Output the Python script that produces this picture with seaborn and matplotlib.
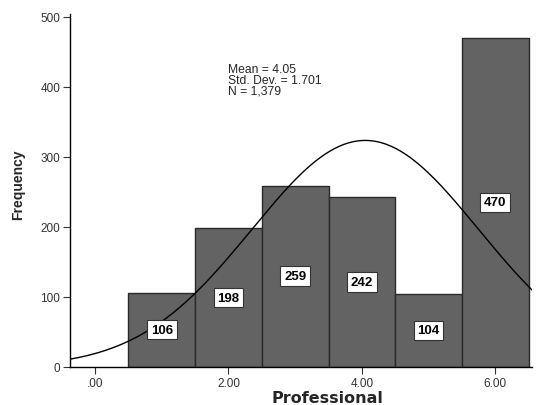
import numpy as np
import pandas as pd
import matplotlib
matplotlib.use("Agg")
import matplotlib.pyplot as plt
import seaborn as sns

# histogram values
scores = [1, 2, 3, 4, 5, 6]
counts = [106, 198, 259, 242, 104, 470]
mean = 4.05
std_dev = 1.701
n_total = 1379
x_ticks = [0, 2, 4, 6]
x_tick_labels = [".00", "2.00", "4.00", "6.00"]
y_ticks = [0, 100, 200, 300, 400, 500]

sns.set_style("white")
plt.rcParams["font.family"] = ["Liberation Sans", "DejaVu Sans"]

fig = plt.figure(figsize=(5.39, 4.06), dpi=100)
ax = fig.add_axes([0.130, 0.094, 0.857, 0.869])

df = pd.DataFrame({"Professional": scores, "count": counts})
sns.histplot(data=df, x="Professional", weights="count",
             binwidth=1, binrange=(0.5, 6.5), color="#636363", alpha=1,
             edgecolor="#2a2a2a", linewidth=1.0, ax=ax)

# normal curve scaled to counts (bin width 1)
xs = np.linspace(-0.375, 6.55, 300)
ys = n_total / (std_dev * np.sqrt(2 * np.pi)) * np.exp(-0.5 * ((xs - mean) / std_dev) ** 2)
sns.lineplot(x=xs, y=ys, color="black", linewidth=1.0, ax=ax)

# count labels in the middle of each bar
for s, c in zip(scores, counts):
    ax.text(s, c / 2, str(c), ha="center", va="center", fontsize=9.5,
            fontweight="bold", color="black",
            bbox=dict(boxstyle="square,pad=0.28", facecolor="white",
                      edgecolor="#333333", linewidth=0.8))

ax.text(1.99, 434, f"Mean = {mean:.2f}\nStd. Dev. = {std_dev}\nN = {n_total:,}",
        fontsize=8.7, va="top", ha="left", linespacing=0.85)

ax.set_xlim(-0.375, 6.55)
ax.set_ylim(0, 504)
ax.set_xticks(x_ticks)
ax.set_xticklabels(x_tick_labels)
ax.set_yticks(y_ticks)
ax.tick_params(axis="both", direction="out", length=5, width=0.8,
               labelsize=8.5, colors="#333333", pad=2, bottom=True, left=True)

ax.set_xlabel("Professional", fontsize=11.5, fontweight="bold",
              family=["DejaVu Sans"])
ax.xaxis.set_label_coords(0.558, -0.065)
ax.set_ylabel("Frequency", fontsize=10, fontweight="bold",
              family=["Liberation Sans Narrow", "Liberation Sans"])
ax.yaxis.set_label_coords(-0.098, 0.52)

sns.despine(ax=ax)
for sp in ["left", "bottom"]:
    ax.spines[sp].set_color("black")
    ax.spines[sp].set_linewidth(1.0)

fig.savefig("out.png", dpi=100)
